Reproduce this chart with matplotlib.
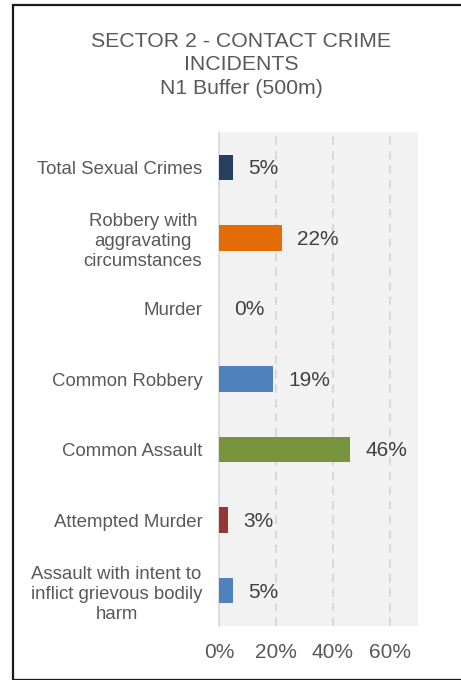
import matplotlib
matplotlib.use("Agg")
import matplotlib.pyplot as plt
from matplotlib.patches import Rectangle
from matplotlib.ticker import FuncFormatter

plt.rcParams['font.family'] = ['Liberation Sans', 'DejaVu Sans']

categories = [
    "Total Sexual Crimes",
    "Robbery with\naggravating\ncircumstances",
    "Murder",
    "Common Robbery",
    "Common Assault",
    "Attempted Murder",
    "Assault with intent to\ninflict grievous bodily\nharm",
]
values = [5, 22, 0, 19, 46, 3, 5]
colors = ["#243F60", "#E36C09", "#4F81BD", "#4F81BD", "#77933C", "#953735", "#4F81BD"]
xticks = [0, 20, 40, 60]
title = "SECTOR 2 - CONTACT CRIME\nINCIDENTS\nN1 Buffer (500m)"

fig = plt.figure(figsize=(4.61, 6.8), dpi=100)
fig.patch.set_facecolor("white")

# outer frame
fig.patches.append(Rectangle((13 / 461, 0.5 / 680), 1.0, 675 / 680,
                             transform=fig.transFigure, fill=False,
                             edgecolor="#1a1a1a", linewidth=1.6, clip_on=False))

ax = fig.add_axes([219 / 461, 54 / 680, 199 / 461, 494 / 680])
ax.set_facecolor("#F2F2F2")

y = list(range(len(categories)))
ax.barh(y, values, height=0.36, color=colors, zorder=3)
ax.set_ylim(len(categories) - 0.5, -0.5)
ax.set_xlim(0, 70)

for yi, v in zip(y, values):
    ax.annotate(f"{v}%", (v, yi), xytext=(11, -1), textcoords="offset points",
                ha="left", va="center", fontsize=15, color="#404040", zorder=4)

ax.set_yticks(y)
ax.set_yticklabels(categories, fontsize=13.4, color="#595959",
                   multialignment="center", linespacing=1.25)
ax.set_xticks(xticks)
ax.xaxis.set_major_formatter(FuncFormatter(lambda v, p: f"{v:.0f}%"))
ax.tick_params(axis="x", labelsize=15, labelcolor="#595959", length=0, pad=12)
ax.tick_params(axis="y", length=0, pad=12)

ax.grid(axis="x", linestyle=(0, (4, 3)), color="#D9D9D9", linewidth=1.5, zorder=1)
ax.grid(axis="y", visible=False)
for s in ["top", "right", "bottom"]:
    ax.spines[s].set_visible(False)
ax.spines["left"].set_color("#D9D9D9")
ax.spines["left"].set_linewidth(1.2)
ax.spines["left"].set_zorder(2)

fig.text(241 / 461, 1 - 65 / 680, title, ha="center", va="center",
         fontsize=15.3, color="#595959", linespacing=1.27)

fig.savefig("out.png", dpi=100)
